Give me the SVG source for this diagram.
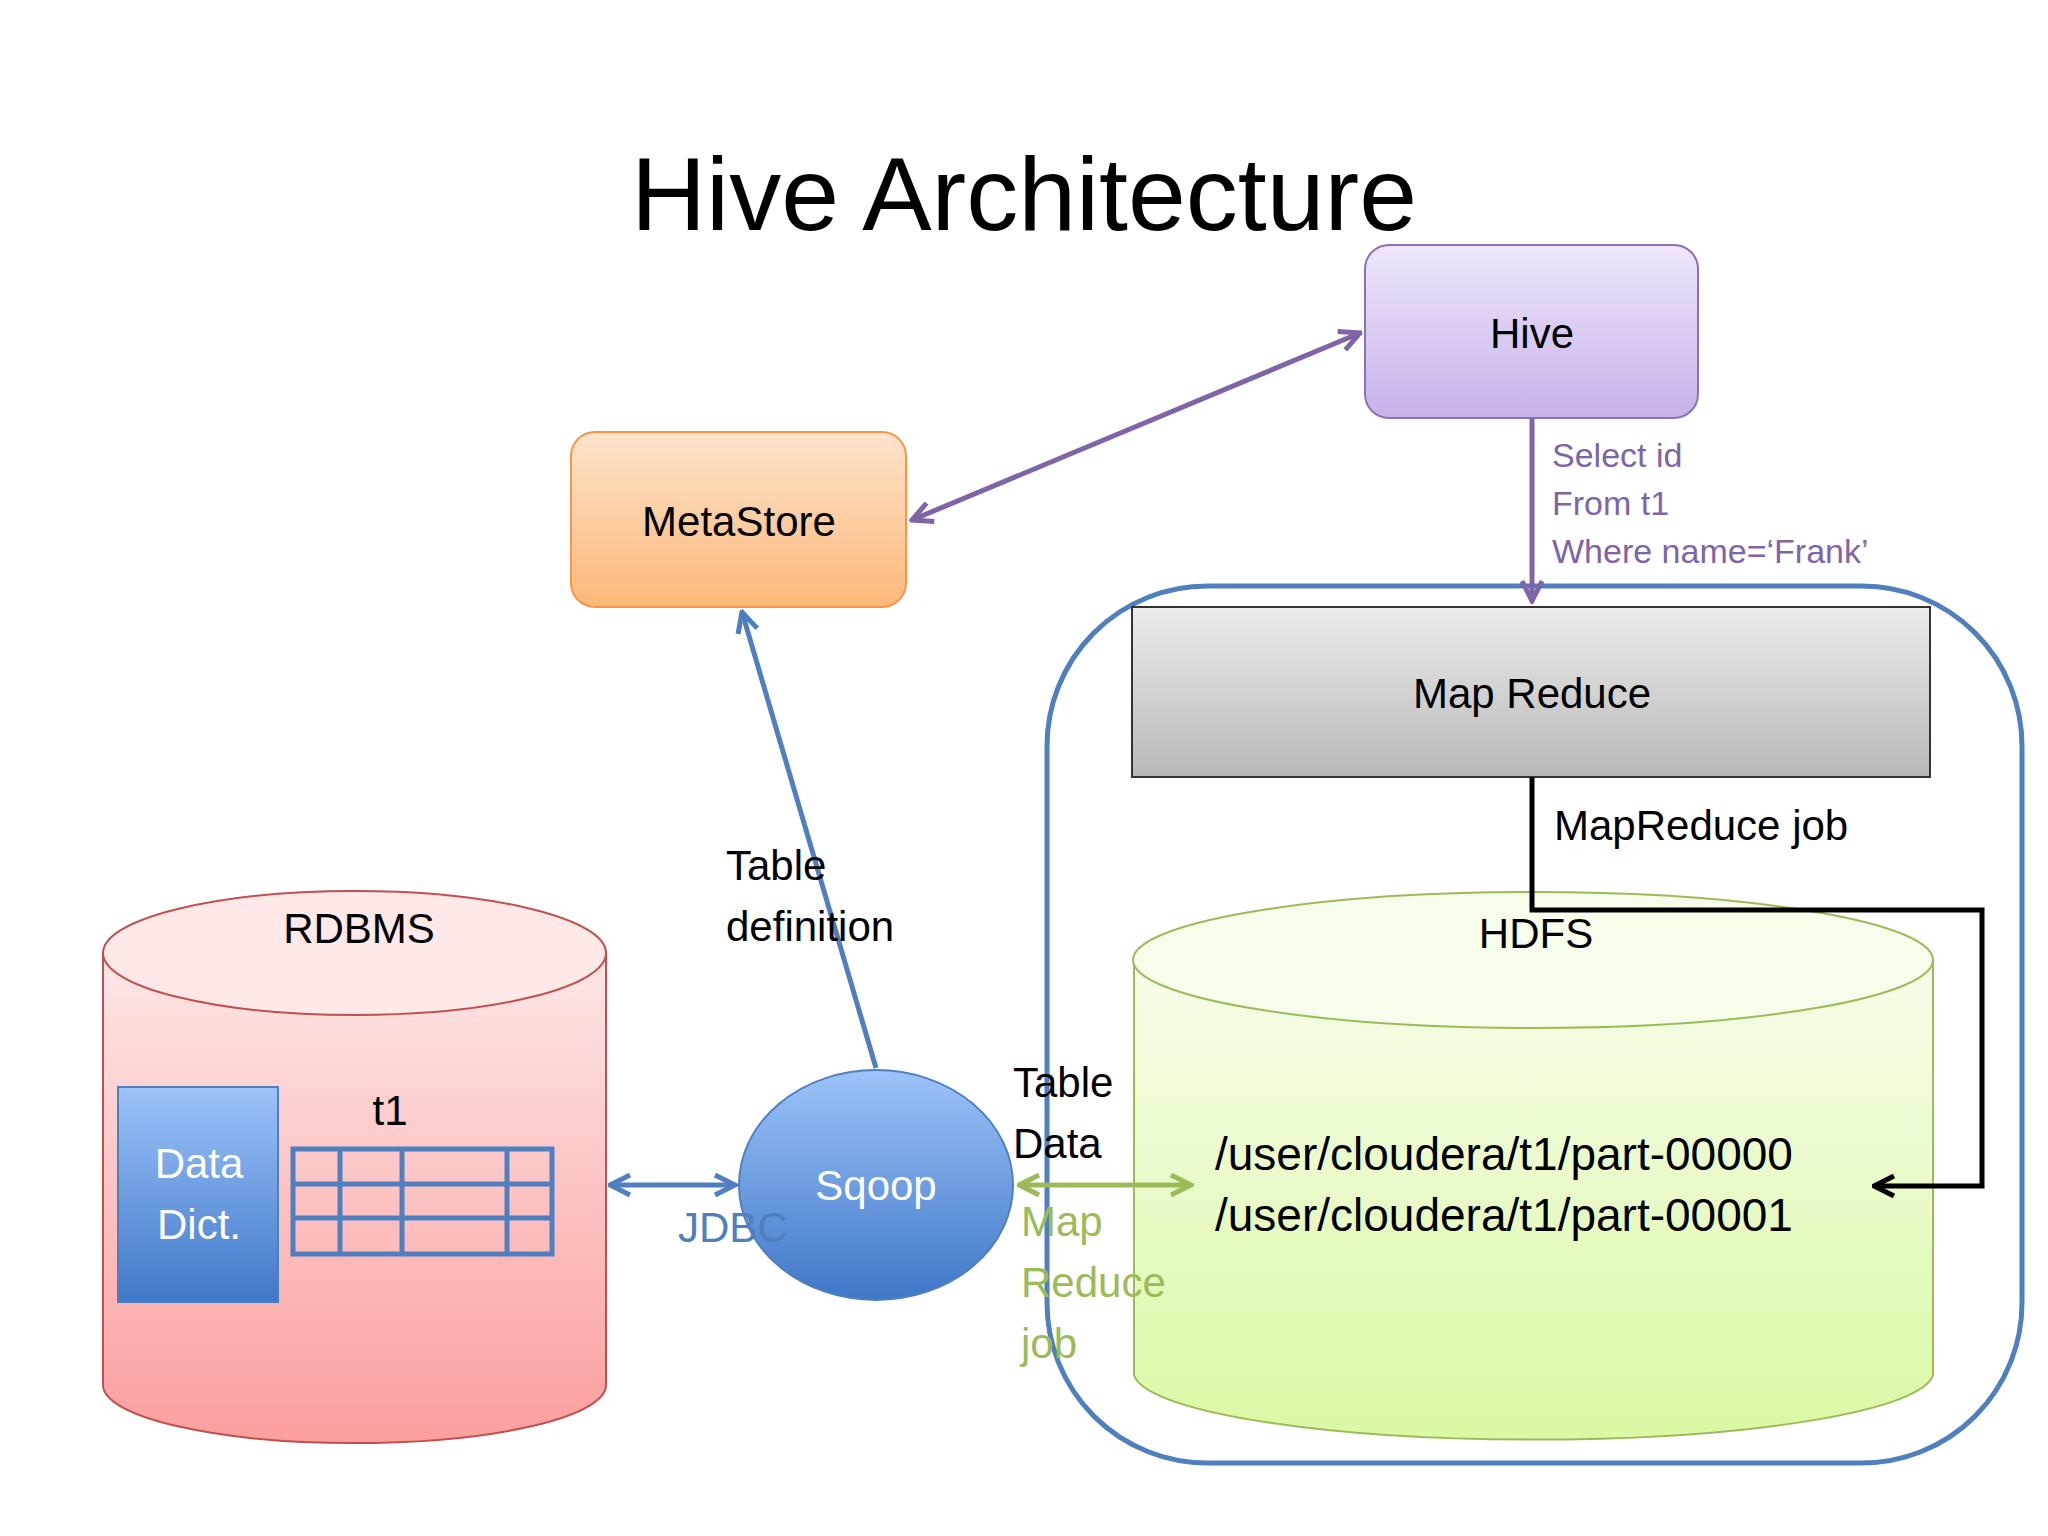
<svg xmlns="http://www.w3.org/2000/svg" width="2048" height="1536" viewBox="0 0 2048 1536">
<defs>
<style>
text{font-family:"Liberation Sans","Noto Sans",sans-serif;}
.t{font-size:42px;fill:#000}
.w{font-size:42px;fill:#fff}
.p{font-size:34px;fill:#7f64a8}
.g{font-size:42px;fill:#9bbb59}
.b{font-size:42px;fill:#4f7fbe}
</style>
<linearGradient id="gHive" x1="0" y1="0" x2="0" y2="1"><stop offset="0" stop-color="#efe6fb"/><stop offset="1" stop-color="#c6b2ea"/></linearGradient>
<linearGradient id="gMeta" x1="0" y1="0" x2="0" y2="1"><stop offset="0" stop-color="#fee3cc"/><stop offset="1" stop-color="#fbb878"/></linearGradient>
<linearGradient id="gMR" x1="0" y1="0" x2="0" y2="1"><stop offset="0" stop-color="#ececec"/><stop offset="1" stop-color="#b8b8b8"/></linearGradient>
<linearGradient id="gHdfs" x1="0" y1="0" x2="0" y2="1"><stop offset="0" stop-color="#f6fdea"/><stop offset="1" stop-color="#dbf8a4"/></linearGradient>
<linearGradient id="gRdb" x1="0" y1="0" x2="0" y2="1"><stop offset="0" stop-color="#fee6e6"/><stop offset="1" stop-color="#fb9e9e"/></linearGradient>
<linearGradient id="gBlue" x1="0" y1="0" x2="0" y2="1"><stop offset="0" stop-color="#9dc3f9"/><stop offset="1" stop-color="#3f78c8"/></linearGradient>
<marker id="aP" viewBox="0 0 10 10" refX="9" refY="5" markerWidth="5" markerHeight="5" orient="auto-start-reverse"><path d="M1,1 L9,5 L1,9" fill="none" stroke="#7f64a8" stroke-width="2"/></marker>
<marker id="aB" viewBox="0 0 10 10" refX="9" refY="5" markerWidth="5" markerHeight="5" orient="auto-start-reverse"><path d="M1,1 L9,5 L1,9" fill="none" stroke="#4f7fbe" stroke-width="2"/></marker>
<marker id="aG" viewBox="0 0 10 10" refX="9" refY="5" markerWidth="5" markerHeight="5" orient="auto-start-reverse"><path d="M1,1 L9,5 L1,9" fill="none" stroke="#9bbb59" stroke-width="2"/></marker>
<marker id="aK" viewBox="0 0 10 10" refX="9" refY="5" markerWidth="5" markerHeight="5" orient="auto-start-reverse"><path d="M1,1 L9,5 L1,9" fill="none" stroke="#000" stroke-width="2"/></marker>
</defs>
<rect width="2048" height="1536" fill="#fff"/>
<text x="1024" y="230" text-anchor="middle" style="font-size:104px">Hive Architecture</text>

<g id="container"><rect x="1047" y="586" width="975" height="877" rx="160" fill="none" stroke="#4f7fbe" stroke-width="5"/></g>

<g id="hdfs">
<path d="M1134,960 L1134,1375 A400,68 0 0 0 1933,1375 L1933,960" fill="url(#gHdfs)" stroke="#9bbb59" stroke-width="2"/>
<ellipse cx="1533" cy="960" rx="400" ry="68" fill="#f6fdea" stroke="#9bbb59" stroke-width="2"/>
<text x="1536" y="948" text-anchor="middle" class="t">HDFS</text>
<text x="1215" y="1170" class="t" style="font-size:46px">/user/cloudera/t1/part-00000</text>
<text x="1215" y="1231" class="t" style="font-size:46px">/user/cloudera/t1/part-00001</text>
</g>

<g id="rdbms">
<path d="M103,953 L103,1385 A251,58 0 0 0 606,1385 L606,953" fill="url(#gRdb)" stroke="#c0504d" stroke-width="2"/>
<ellipse cx="354.5" cy="953" rx="251.5" ry="62" fill="#fee8e8" stroke="#c0504d" stroke-width="2"/>
<text x="359" y="943" text-anchor="middle" class="t">RDBMS</text>
</g>

<g id="datadict">
<rect x="118" y="1087" width="160" height="215" fill="url(#gBlue)" stroke="#4f7fbe" stroke-width="2"/>
<text x="199" y="1178" text-anchor="middle" class="w">Data</text>
<text x="199" y="1239" text-anchor="middle" class="w">Dict.</text>
</g>

<g id="t1">
<text x="390" y="1125" text-anchor="middle" class="t">t1</text>
<g fill="none" stroke="#4f7fbe" stroke-width="5">
<rect x="293" y="1149" width="259" height="105"/>
<path d="M293,1184H552M293,1218H552M340,1149V1254M402,1149V1254M507,1149V1254"/>
</g>
</g>

<g id="hive">
<rect x="1365" y="245" width="333" height="173" rx="24" fill="url(#gHive)" stroke="#8a72b4" stroke-width="2"/>
<text x="1532" y="348" text-anchor="middle" class="t">Hive</text>
</g>

<g id="metastore">
<rect x="571" y="432" width="335" height="175" rx="24" fill="url(#gMeta)" stroke="#f79646" stroke-width="2"/>
<text x="739" y="536" text-anchor="middle" class="t">MetaStore</text>
</g>

<g id="mapreduce">
<rect x="1132" y="607" width="798" height="170" fill="url(#gMR)" stroke="#333" stroke-width="2"/>
<text x="1532" y="708" text-anchor="middle" class="t">Map Reduce</text>
</g>

<g id="sqoop">
<ellipse cx="876" cy="1185" rx="137" ry="115" fill="url(#gBlue)" stroke="#4f7fbe" stroke-width="2"/>
<text x="876" y="1200" text-anchor="middle" class="w">Sqoop</text>
</g>

<g id="connectors" fill="none" stroke-width="5">
<line x1="1360" y1="333" x2="912" y2="520" stroke="#7f64a8" marker-start="url(#aP)" marker-end="url(#aP)"/>
<line x1="1532" y1="418" x2="1532" y2="601" stroke="#7f64a8" marker-end="url(#aP)"/>
<path d="M1532,777V910H1982V1186H1874" stroke="#000" marker-end="url(#aK)"/>
<line x1="876" y1="1068" x2="742" y2="612" stroke="#4f7fbe" marker-end="url(#aB)"/>
<line x1="610" y1="1185" x2="735" y2="1185" stroke="#4f7fbe" marker-start="url(#aB)" marker-end="url(#aB)"/>
<line x1="1019" y1="1185" x2="1191" y2="1185" stroke="#9bbb59" marker-start="url(#aG)" marker-end="url(#aG)"/>
</g>

<g id="labels">
<text x="1552" y="467" class="p">Select id</text>
<text x="1552" y="515" class="p">From t1</text>
<text x="1552" y="563" class="p">Where name=‘Frank’</text>
<text x="1554" y="840" class="t">MapReduce job</text>
<text x="726" y="880" class="t">Table</text>
<text x="726" y="941" class="t">definition</text>
<text x="678" y="1242" class="b">JDBC</text>
<text x="1013" y="1097" class="t">Table</text>
<text x="1013" y="1158" class="t">Data</text>
<text x="1021" y="1236" class="g">Map</text>
<text x="1021" y="1297" class="g">Reduce</text>
<text x="1021" y="1358" class="g">job</text>
</g>
</svg>
